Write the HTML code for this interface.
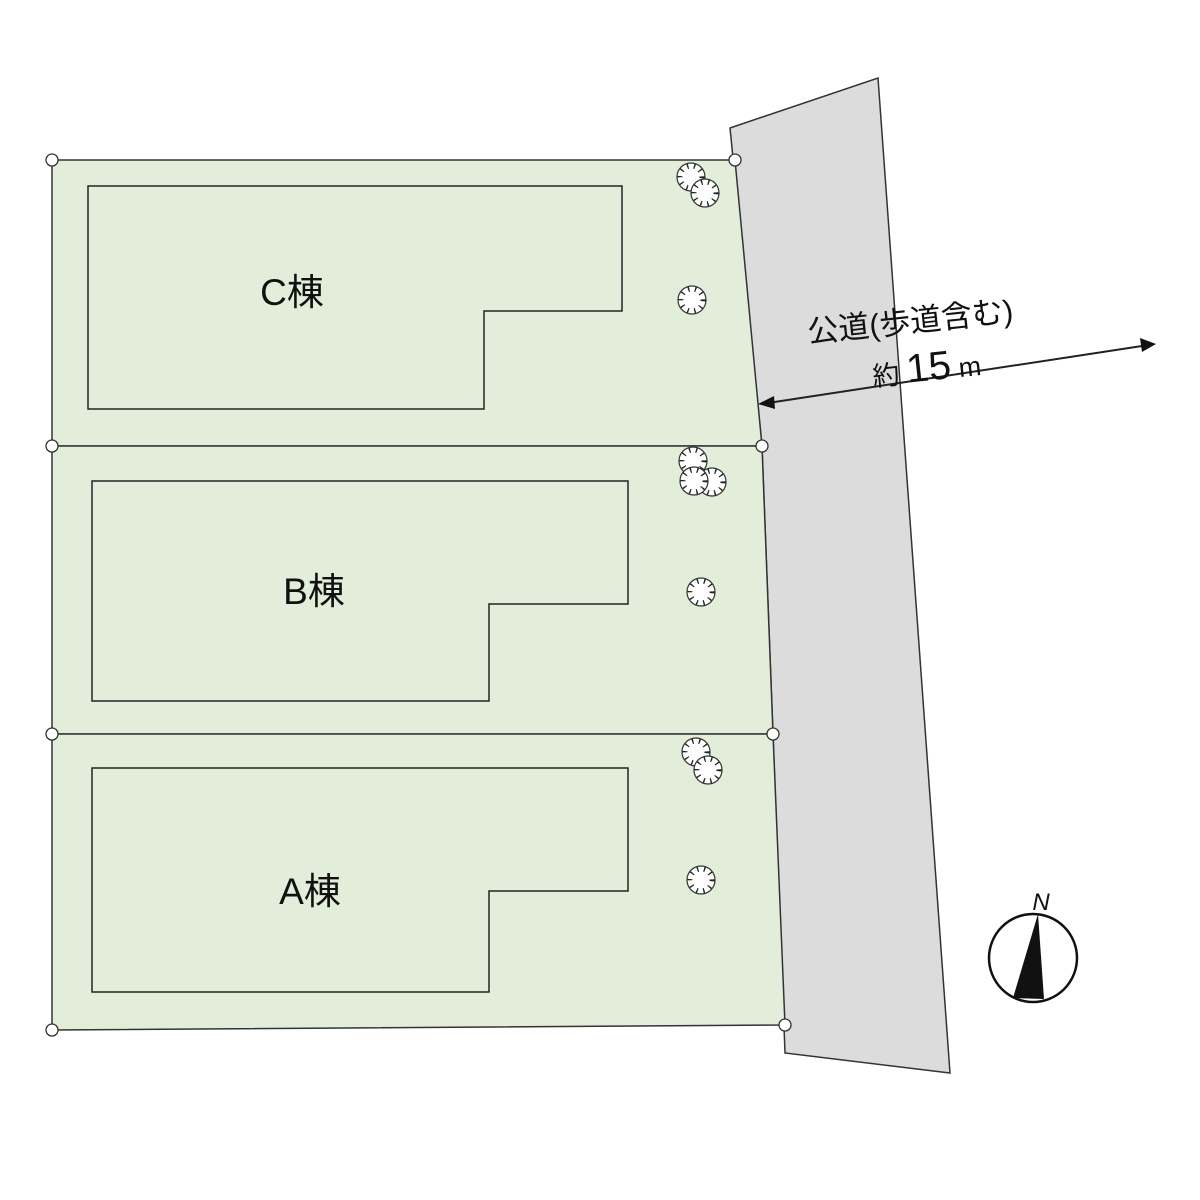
<!DOCTYPE html>
<html><head><meta charset="utf-8"><style>html,body{margin:0;padding:0;background:#fff}svg{display:block}</style></head>
<body>
<svg width="1200" height="1200" viewBox="0 0 1200 1200" xmlns="http://www.w3.org/2000/svg">
<defs>
<g id="t"><circle r="14" fill="#fff" stroke="#333" stroke-width="1.2"/><circle r="11" fill="none" stroke="#222" stroke-width="5" stroke-dasharray="1.3 5.5"/></g>
</defs>
<polygon points="730,128 878,78 950,1073 785,1053 773,734 762,446" fill="#dcdcdc" stroke="#333" stroke-width="1.5"/>
<g fill="#e2eed9" stroke="#333" stroke-width="1.5">
<polygon points="52,160 735,160 762,446 52,446"/>
<polygon points="52,446 762,446 773,734 52,734"/>
<polygon points="52,734 773,734 785,1025 52,1030"/>
</g>
<g fill="none" stroke="#222" stroke-width="1.5">
<polygon points="88,186 622,186 622,311 484,311 484,409 88,409"/>
<polygon points="92,481 628,481 628,604 489,604 489,701 92,701"/>
<polygon points="92,768 628,768 628,891 489,891 489,992 92,992"/>
</g>
<g>
<use href="#t" x="691" y="177"/><use href="#t" x="705" y="193"/><use href="#t" x="692" y="300"/>
<use href="#t" x="693" y="461"/><use href="#t" x="712" y="482"/><use href="#t" x="694" y="481"/><use href="#t" x="701" y="592"/>
<use href="#t" x="696" y="752"/><use href="#t" x="708" y="770"/><use href="#t" x="701" y="880"/>
</g>
<g fill="#fff" stroke="#333" stroke-width="1.3">
<circle cx="52" cy="160" r="6"/><circle cx="735" cy="160" r="6"/>
<circle cx="52" cy="446" r="6"/><circle cx="762" cy="446" r="6"/>
<circle cx="52" cy="734" r="6"/><circle cx="773" cy="734" r="6"/>
<circle cx="52" cy="1030" r="6"/><circle cx="785" cy="1025" r="6"/>
</g>
<g font-family="Liberation Sans, Noto Sans CJK JP, sans-serif" font-size="37" fill="#111" text-anchor="middle">
<text x="292" y="305">C棟</text>
<text x="314" y="604">B棟</text>
<text x="310" y="904">A棟</text>
</g>
<line x1="768" y1="403" x2="1142" y2="346" stroke="#222" stroke-width="2"/>
<polygon points="758,404 774,396 775,409" fill="#111"/>
<polygon points="1156,344 1140,338 1142,352" fill="#111"/>
<g font-family="Liberation Sans, Noto Sans CJK JP, sans-serif" fill="#111" transform="rotate(-6 930 330)">
<text x="808" y="330" font-size="31">公道(歩道含む)</text>
<text x="868" y="380" font-size="27">約 <tspan font-size="40">15</tspan> m</text>
</g>
<circle cx="1033" cy="958" r="44" fill="#fff" stroke="#111" stroke-width="2.5"/>
<polygon points="1038,914 1013,998 1044,999" fill="#111"/>
<text x="1041" y="910" font-family="Liberation Sans, sans-serif" font-style="italic" font-size="24" fill="#111" text-anchor="middle">N</text>
</svg>
</body></html>
